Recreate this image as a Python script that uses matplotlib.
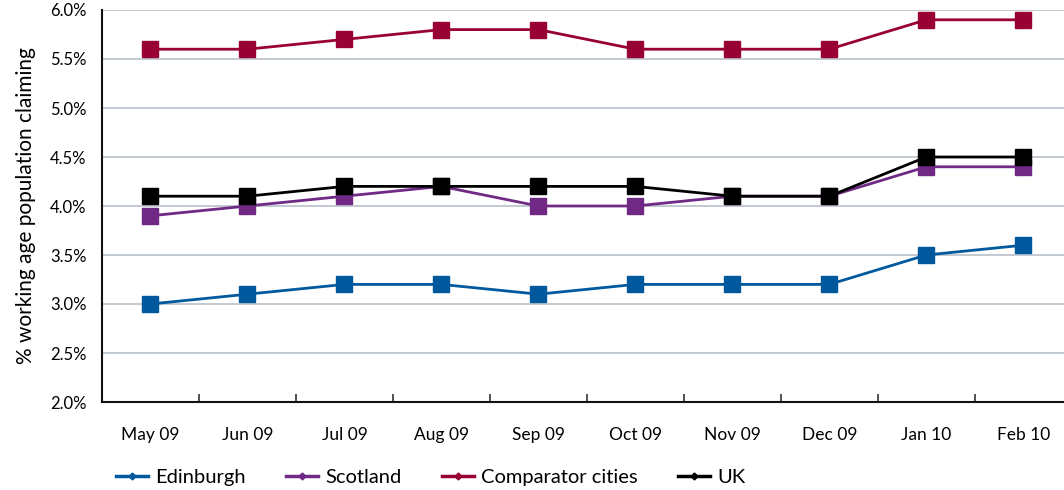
import numpy as np
import matplotlib.pyplot as plt
from matplotlib.ticker import FuncFormatter

plt.rcParams['font.family'] = ['Lato', 'DejaVu Sans']

months = ['May 09', 'Jun 09', 'Jul 09', 'Aug 09', 'Sep 09',
          'Oct 09', 'Nov 09', 'Dec 09', 'Jan 10', 'Feb 10']
edinburgh = [3.0, 3.1, 3.2, 3.2, 3.1, 3.2, 3.2, 3.2, 3.5, 3.6]
scotland = [3.9, 4.0, 4.1, 4.2, 4.0, 4.0, 4.1, 4.1, 4.4, 4.4]
comparator = [5.6, 5.6, 5.7, 5.8, 5.8, 5.6, 5.6, 5.6, 5.9, 5.9]
uk = [4.1, 4.1, 4.2, 4.2, 4.2, 4.2, 4.1, 4.1, 4.5, 4.5]

series = [
    ('Edinburgh', edinburgh, '#00599d'),
    ('Scotland', scotland, '#702a85'),
    ('Comparator cities', comparator, '#990033'),
    ('UK', uk, '#000000'),
]

fig = plt.figure(figsize=(10.64, 4.9), dpi=100)
ax = fig.add_axes([102 / 1064, 88 / 490, 1 - 102 / 1064, 392 / 490])

x = np.arange(len(months))
for name, vals, color in series:
    ax.plot(x, vals, color=color, linewidth=2, marker='s', markersize=12,
            markeredgecolor=color, label=name, zorder=3)

ax.set_xlim(-0.5, 9.42)
ax.set_ylim(2.0, 6.0)
ax.set_yticks(np.arange(2.0, 6.01, 0.5))
ax.yaxis.set_major_formatter(FuncFormatter(lambda v, p: f'{v:.1f}%'))
ax.grid(axis='y', color='#b9c0c9', linewidth=1.2)
ax.set_axisbelow(True)

ax.set_xticks(x)
ax.set_xticklabels(months)
ax.set_xticks(np.arange(0.5, 9.0, 1), minor=True)
ax.tick_params(axis='x', which='major', length=0, pad=18, labelsize=12.5)
ax.tick_params(axis='x', which='minor', direction='in', length=6, width=1.2,
               color='#333333')
ax.tick_params(axis='y', length=0, pad=11, labelsize=12)

for s in ['top', 'right']:
    ax.spines[s].set_visible(False)
for s in ['left', 'bottom']:
    ax.spines[s].set_linewidth(1.5)
    ax.spines[s].set_color('#111111')

ax.set_ylabel('% working age population claiming', fontsize=15, labelpad=10)

handles = [plt.Line2D([], [], color=c, linewidth=2.5, marker='D', markersize=3.5)
           for _, _, c in series]
fig.legend(handles, [n for n, _, _ in series], loc='center left',
           bbox_to_anchor=(106 / 1064, 13 / 490), ncol=4, frameon=False,
           fontsize=14.5, handlelength=1.6, handletextpad=0.35,
           columnspacing=2.0, borderpad=0)

fig.savefig('out.png', dpi=100)
